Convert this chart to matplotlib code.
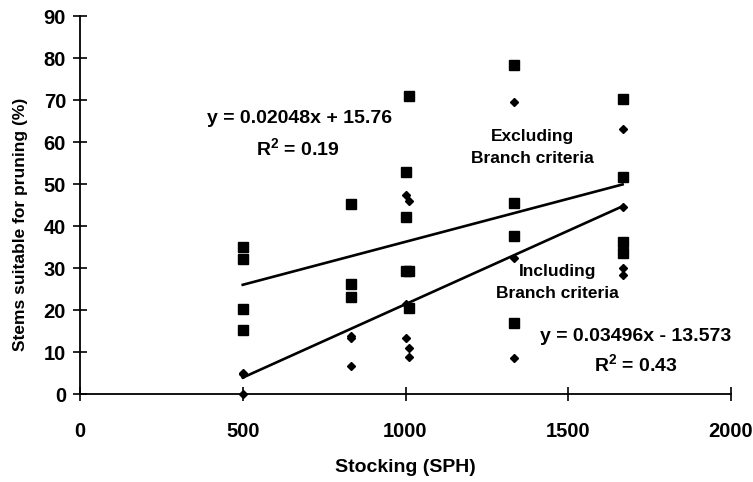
import numpy as np
import matplotlib.pyplot as plt

plt.rcParams['font.family'] = ['Liberation Sans', 'DejaVu Sans']
plt.rcParams['font.weight'] = 'bold'
plt.rcParams['mathtext.fontset'] = 'custom'
plt.rcParams['mathtext.rm'] = 'Liberation Sans:bold'
plt.rcParams['mathtext.bf'] = 'Liberation Sans:bold'

# Excluding branch criteria (squares)
excl_x = [500, 500, 500, 500,
          833, 833, 833,
          1000, 1000, 1000, 1010, 1010, 1010,
          1333, 1333, 1333, 1333,
          1667, 1667, 1667, 1667]
excl_y = [35.1, 32.1, 20.2, 15.2,
          45.2, 26.3, 23.0,
          52.9, 42.1, 29.3, 71.0, 29.3, 20.5,
          78.3, 45.4, 37.6, 17.0,
          70.2, 51.7, 36.3, 33.5]

# Including branch criteria (diamonds)
incl_x = [500, 500, 500,
          833, 833, 833,
          1000, 1000, 1000, 1010, 1010, 1010,
          1333, 1333, 1333,
          1667, 1667, 1667, 1667]
incl_y = [0.0, 4.8, 5.1,
          13.3, 13.8, 6.7,
          47.4, 21.4, 13.3, 46.0, 11.0, 8.9,
          69.6, 32.3, 8.5,
          63.0, 44.6, 29.9, 28.3]

# trend lines as given in the chart
excl_fit = (0.02048, 15.76)
incl_fit = (0.03496, -13.573)
fit_range = [500, 1667]

fig = plt.figure(figsize=(7.53, 4.82), dpi=100)
ax = fig.add_axes([80 / 753, 1 - 394 / 482, 651 / 753, 378 / 482])

ax.plot(excl_x, excl_y, 's', color='black', ms=6.5, clip_on=False, zorder=3)
ax.plot(incl_x, incl_y, 'D', color='black', ms=4.5, clip_on=False, zorder=3)

xf = np.array(fit_range)
ax.plot(xf, excl_fit[0] * xf + excl_fit[1], color='black', lw=1.9, zorder=2)
ax.plot(xf, incl_fit[0] * xf + incl_fit[1], color='black', lw=1.9, zorder=2)

ax.set_xlim(0, 2000)
ax.set_ylim(0, 90)
ax.set_xticks(np.arange(0, 2001, 500))
ax.set_yticks(np.arange(0, 91, 10))
ax.spines['top'].set_visible(False)
ax.spines['right'].set_visible(False)
for s in ['left', 'bottom']:
    ax.spines[s].set_linewidth(1.3)
ax.tick_params(axis='both', which='major', direction='inout', length=10,
               width=1.2, color='black', labelsize=14.5)
ax.tick_params(axis='x', pad=15)
ax.tick_params(axis='y', pad=5)

ax.set_xlabel('Stocking (SPH)', fontsize=14, fontweight='bold')
ax.set_ylabel('Stems suitable for pruning (%)', fontsize=12.5, fontweight='bold')
ax.xaxis.set_label_coords(0.5, -0.172)
ax.yaxis.set_label_coords(-0.08, 0.45)

ax.text(676, 65.7, 'y = 0.02048x + 15.76', ha='center', va='center', fontsize=14)
ax.text(670, 58.3, r'R$^\mathbf{2}$ = 0.19', ha='center', va='center', fontsize=14)
ax.text(1389, 61.3, 'Excluding', ha='center', va='center', fontsize=12.5)
ax.text(1389, 56.0, 'Branch criteria', ha='center', va='center', fontsize=12.5)
ax.text(1467, 29.1, 'Including', ha='center', va='center', fontsize=12.5)
ax.text(1467, 24.0, 'Branch criteria', ha='center', va='center', fontsize=12.5)
ax.text(1708, 13.6, 'y = 0.03496x - 13.573', ha='center', va='center', fontsize=14)
ax.text(1708, 6.9, r'R$^\mathbf{2}$ = 0.43', ha='center', va='center', fontsize=14)

fig.savefig('out.png', dpi=100)
